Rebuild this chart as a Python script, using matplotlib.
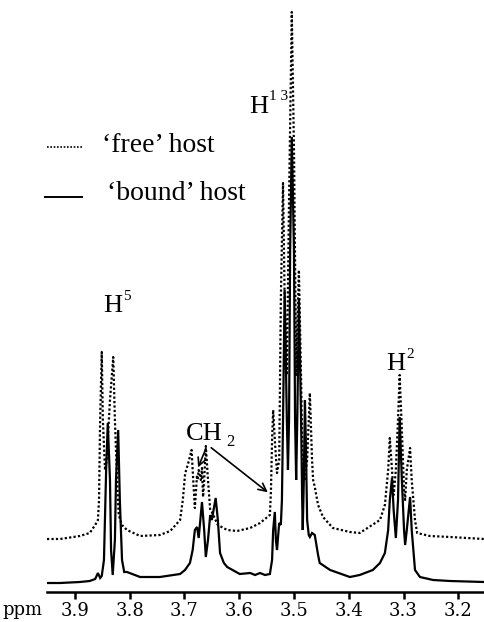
import numpy as np
import matplotlib.pyplot as plt
from matplotlib.lines import Line2D

# 'bound' host trace: vertices (ppm, intensity above its baseline)
bound_ppm = [3.951, 3.927, 3.891, 3.873, 3.863, 3.858, 3.854, 3.851, 3.847, 3.843,
             3.840, 3.836, 3.834, 3.831, 3.827, 3.825, 3.821, 3.818, 3.814, 3.810,
             3.805, 3.781, 3.745, 3.708, 3.699, 3.690, 3.685, 3.681, 3.677, 3.674,
             3.668, 3.664, 3.661, 3.657, 3.653, 3.650, 3.643, 3.639, 3.635, 3.628,
             3.622, 3.599, 3.580, 3.571, 3.562, 3.553, 3.544, 3.540, 3.538, 3.535,
             3.533, 3.531, 3.527, 3.524, 3.522, 3.520, 3.517, 3.513, 3.511, 3.509,
             3.507, 3.504, 3.500, 3.498, 3.496, 3.494, 3.491, 3.487, 3.485, 3.484,
             3.482, 3.480, 3.478, 3.476, 3.473, 3.471, 3.467, 3.462, 3.456, 3.453,
             3.434, 3.398, 3.380, 3.356, 3.343, 3.334, 3.328, 3.325, 3.321, 3.318,
             3.314, 3.310, 3.307, 3.303, 3.299, 3.297, 3.294, 3.288, 3.285, 3.279,
             3.270, 3.246, 3.215, 3.153]
bound_int = [0, 0, 1, 2, 4, 10, 5, 7, 23, 113,
             160, 103, 33, 8, 43, 103, 153, 83, 23, 11,
             11, 6, 6, 9, 13, 20, 33, 53, 56, 45,
             81, 53, 26, 43, 68, 63, 85, 63, 30, 20,
             16, 9, 10, 8, 10, 8, 9, 23, 53, 71,
             43, 33, 60, 58, 83, 163, 293, 163, 113, 163,
             333, 446, 333, 163, 103, 163, 283, 163, 83, 53,
             103, 183, 133, 63, 48, 46, 50, 48, 28, 20,
             13, 6, 8, 13, 20, 30, 53, 83, 105, 73,
             45, 83, 166, 103, 53, 38, 53, 86, 53, 13,
             6, 3, 2, 1]

# 'free' host trace: vertices (ppm, intensity above its baseline)
free_ppm = [3.951, 3.927, 3.891, 3.873, 3.863, 3.858, 3.856, 3.854, 3.851, 3.849,
            3.845, 3.842, 3.840, 3.836, 3.830, 3.827, 3.823, 3.820, 3.814, 3.805,
            3.781, 3.745, 3.726, 3.708, 3.703, 3.699, 3.697, 3.694, 3.687, 3.684,
            3.681, 3.677, 3.676, 3.674, 3.670, 3.668, 3.666, 3.664, 3.661, 3.657,
            3.653, 3.650, 3.639, 3.622, 3.604, 3.580, 3.562, 3.544, 3.542, 3.540,
            3.538, 3.535, 3.531, 3.527, 3.524, 3.520, 3.517, 3.513, 3.509, 3.504,
            3.500, 3.496, 3.494, 3.491, 3.487, 3.484, 3.480, 3.476, 3.471, 3.467,
            3.465, 3.462, 3.456, 3.447, 3.429, 3.398, 3.380, 3.343, 3.334, 3.328,
            3.325, 3.321, 3.318, 3.314, 3.310, 3.307, 3.303, 3.299, 3.297, 3.294,
            3.288, 3.285, 3.279, 3.275, 3.252, 3.215, 3.153]
free_int = [-2, -2, 1, 4, 12, 17, 37, 117, 185, 117,
            67, 77, 97, 137, 180, 117, 57, 22, 12, 7,
            1, 2, 6, 17, 37, 62, 67, 72, 87, 57,
            29, 62, 57, 67, 57, 69, 40, 57, 91, 57,
            27, 25, 12, 7, 6, 9, 14, 22, 47, 97,
            127, 97, 64, 77, 237, 354, 237, 162, 337, 525,
            387, 162, 207, 267, 157, 67, 57, 77, 144, 77,
            57, 50, 32, 20, 9, 5, 4, 17, 32, 67,
            99, 67, 42, 67, 117, 162, 107, 47, 37, 67,
            89, 57, 17, 4, 1, 0, -2]

free_offset = 46
x_ticks = [3.9, 3.8, 3.7, 3.6, 3.5, 3.4, 3.3, 3.2]

W, H = 484, 622
fig = plt.figure(figsize=(W / 100, H / 100), dpi=100)
ax = fig.add_axes([47 / W, 30 / H, 1 - 47 / W, 592 / H])

ax.plot(bound_ppm, bound_int, color='black', lw=1.6, solid_joinstyle='miter')
ax.plot(free_ppm, np.array(free_int) + free_offset, color='black', lw=1.6,
        linestyle=(0, (1, 1)), dash_capstyle='butt')

ax.set_xlim(3.951, 3.153)
ax.set_ylim(-9, 583)
for s in ['top', 'left', 'right']:
    ax.spines[s].set_visible(False)
ax.spines['bottom'].set_linewidth(1.8)
ax.set_yticks([])
ax.set_xticks(x_ticks)
ax.set_xticklabels([f'{t:.1f}' for t in x_ticks], family='DejaVu Serif', fontsize=13)
ax.tick_params(axis='x', direction='out', length=5, width=1.8, pad=2)

def fp(x, y):
    return (x / W, 1 - y / H)

fig.text(*fp(2, 615), 'ppm', family='DejaVu Serif', fontsize=13, va='baseline', ha='left')

serif = 'Liberation Serif'
# legend
fig.add_artist(Line2D([47 / W, 83 / W], [1 - 147 / H] * 2, color='black', lw=1.2,
                      linestyle=(0, (1, 1))))
fig.add_artist(Line2D([45 / W, 82 / W], [1 - 197 / H] * 2, color='black', lw=1.4))
fig.text(*fp(102, 145), '\u2018free\u2019 host', family=serif, fontsize=20, va='center')
fig.text(*fp(107, 193), '\u2018bound\u2019 host', family=serif, fontsize=20, va='center')

# peak labels
fig.text(*fp(249, 113), 'H', family=serif, fontsize=19, va='baseline')
fig.text(*fp(269, 100), '1 3', family=serif, fontsize=11, va='baseline')
fig.text(*fp(103, 312), 'H', family=serif, fontsize=19, va='baseline')
fig.text(*fp(123, 300), '5', family=serif, fontsize=11, va='baseline')
fig.text(*fp(386, 370), 'H', family=serif, fontsize=19, va='baseline')
fig.text(*fp(406, 358), '2', family=serif, fontsize=11, va='baseline')
fig.text(*fp(186, 440), 'CH', family=serif, fontsize=19, va='baseline')
fig.text(*fp(226, 446), '2', family=serif, fontsize=12, va='baseline')

arrow = dict(arrowstyle='->', color='black', lw=1.2, mutation_scale=14)
ax.annotate('', xy=(197, H - 470), xytext=(207, H - 446),
            xycoords='figure pixels', textcoords='figure pixels', arrowprops=arrow)
ax.annotate('', xy=(270, H - 494), xytext=(209, H - 446),
            xycoords='figure pixels', textcoords='figure pixels', arrowprops=arrow)

fig.savefig('out.png', dpi=100)
